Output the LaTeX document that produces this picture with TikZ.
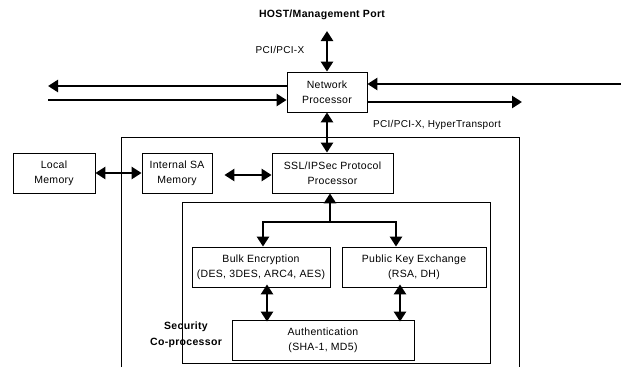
\documentclass[tikz,border=0pt]{standalone}
\usepackage{fontspec}
\setmainfont{Liberation Sans}[LetterSpace=3]
\usetikzlibrary{arrows.meta}
\begin{document}
\begin{tikzpicture}[x=1pt,y=-1pt,
  box/.style={draw, line width=0.8pt, align=center, inner sep=0pt, minimum height=40pt, font=\fontsize{10.5}{15}\selectfont},
  lbl/.style={inner sep=0pt, align=center, font=\fontsize{10}{12}\selectfont},
  blbl/.style={inner sep=0pt, align=center, font=\bfseries\fontsize{10.5}{16}\selectfont},
  tip/.tip={Triangle[length=10pt,width=12pt]},
  dbl/.style={tip-tip, line width=2.6pt},
  one/.style={-tip, line width=2.6pt},
  wire/.style={line width=0.8pt}]
\useasboundingbox (0,0) rectangle (621,367);

% outer board (open at bottom)
\draw[wire] (121,367) -- (121,137) -- (519,137) -- (519,367);
% security co-processor box
\node[draw, wire, minimum width=308pt, minimum height=161pt, inner sep=0pt] (cop) at (336,282.5) {};

\node[blbl] (host) at (322,15) {HOST/Management Port};
\node[lbl] (pci1) at (280,50) {PCI/PCI-X};
\node[lbl] (pci2) at (437,125) {PCI/PCI-X, HyperTransport};

\node[box, minimum width=80pt] (np) at (327,92) {Network\\Processor};
\node[box, minimum width=82pt] (lm) at (54,173) {Local\\Memory};
\node[box, minimum width=70pt] (sa) at (177,173) {Internal SA\\Memory};
\node[box, minimum width=121pt] (ssl) at (332.5,173) {SSL/IPSec Protocol\\Processor};
\node[box, minimum width=138pt] (bulk) at (261,267) {Bulk Encryption\\(DES, 3DES, ARC4, AES)};
\node[box, minimum width=144pt] (pke) at (414,267) {Public Key Exchange\\(RSA, DH)};
\node[box, minimum width=182pt] (auth) at (323,340) {Authentication\\(SHA-1, MD5)};
\node[blbl] (seclbl) at (186,335) {Security\\Co-processor};

% host port
\coordinate (hp) at (327,31);
\draw[dbl] (hp) -- (np.north);
% network lines
\coordinate (lout) at (48,86);
\coordinate (lin) at (48,100);
\coordinate (rin) at (621,84);
\coordinate (rout) at (522,102);
\draw[one] (np.west |- lout) -- (lout);
\draw[one] (lin) -- (lin -| np.west);
\draw[one] (rin) -- (rin -| np.east);
\draw[one] (rout -| np.east) -- (rout);
% NP to SSL
\draw[dbl] (np.south) -- (np.south |- ssl.north);
% memory links
\draw[dbl] (lm.east) -- (sa.west);
\draw[dbl] ([xshift=12pt,yshift=-2pt]sa.east) -- ([yshift=-2pt]ssl.west);
% SSL to engines
\coordinate (br) at (330,222);
\coordinate (bl) at (263,222);
\coordinate (brr) at (396,222);
\draw[tip-, line width=2.6pt] (br |- ssl.south) -- (br);
\draw[one] (br) -| (bl |- bulk.north);
\draw[one] (br) -| (brr |- pke.north);
% engines to auth
\draw[dbl] ([xshift=6pt,yshift=3pt]bulk.south) -- ([xshift=6pt,yshift=-2pt]bulk.south |- auth.north);
\draw[dbl] ([xshift=-14pt,yshift=3pt]pke.south) -- ([xshift=-14pt,yshift=-2pt]pke.south |- auth.north);
\end{tikzpicture}
\end{document}
